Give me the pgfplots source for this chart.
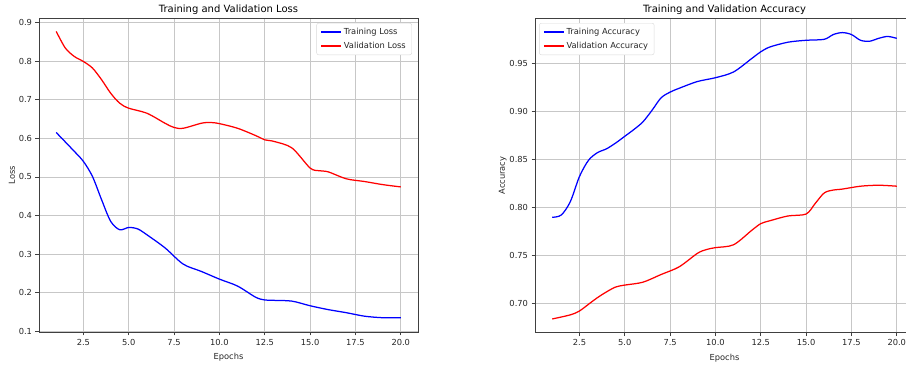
\documentclass[border=0pt]{standalone}
\usepackage{fontspec}
\setmainfont{DejaVu Sans}
\usepackage{pgfplots}
\pgfplotsset{compat=1.18}
\usepackage{pgfplotstable}

\pgfplotstableread{
e v
1 0.615
2 0.566
2.5 0.540
3 0.501
3.5 0.441
4 0.385
4.5 0.363
5 0.369
5.5 0.365
6 0.350
7 0.316
8 0.274
9 0.255
10 0.235
11 0.217
12 0.188
12.5 0.181
13 0.180
14 0.178
15 0.166
16 0.156
17 0.148
18 0.139
19 0.135
20 0.135
}\trainloss

\pgfplotstableread{
e v
1 0.877
1.5 0.834
2 0.812
2.5 0.799
3 0.782
3.5 0.752
4 0.717
4.5 0.691
5 0.678
6 0.665
7 0.639
7.5 0.628
8 0.626
9 0.639
9.5 0.641
10 0.638
11 0.626
12 0.607
12.5 0.596
13 0.592
14 0.575
15 0.523
15.5 0.516
16 0.513
17 0.495
18 0.488
19 0.480
20 0.474
}\valloss

\pgfplotstableread{
e v
1 0.7896
1.5 0.792
2 0.806
2.5 0.832
3 0.849
3.5 0.857
4 0.861
4.5 0.867
5 0.874
5.5 0.881
6 0.889
6.5 0.901
7 0.914
7.5 0.920
8 0.924
9 0.931
10 0.935
11 0.941
12 0.955
12.5 0.962
13 0.967
14 0.972
15 0.974
16 0.975
16.5 0.980
17 0.982
17.5 0.980
18 0.974
18.5 0.973
19 0.976
19.5 0.978
20 0.976
}\trainacc

\pgfplotstableread{
e v
1 0.6837
2 0.688
2.5 0.692
3 0.699
3.5 0.706
4 0.712
4.5 0.717
5 0.719
6 0.722
7 0.730
8 0.738
9 0.752
9.5 0.756
10 0.758
11 0.761
12 0.776
12.5 0.783
13 0.786
14 0.791
15 0.793
15.5 0.804
16 0.815
16.5 0.818
17 0.819
18 0.822
19 0.823
20 0.822
}\valacc

\pgfplotsset{
  mpl/.style={
    scale only axis,
    width=379pt,
    xmin=0.05, xmax=20.95,
    grid=major,
    grid style={color=black!22, line width=0.65pt},
    axis line style={black!75, line width=0.65pt},
    tick style={black!75, line width=0.65pt},
    tick align=outside,
    tick pos=left,
    major tick length=3.5pt,
    xtick={2.5,5,...,20},
    /pgf/number format/assume math mode=true,
    xticklabel style={/pgf/number format/.cd, fixed, fixed zerofill, precision=1},
    ticklabel style={font=\fontsize{8.3}{10}\selectfont, text=black!85},
    label style={font=\fontsize{8.3}{10}\selectfont, text=black!85},
    title style={font=\fontsize{10}{12}\selectfont, yshift=-6pt},
    xlabel style={yshift=-1pt},
    xlabel={Epochs},
    legend cell align=left,
    legend style={font=\fontsize{8.3}{10}\selectfont, draw=black!15, rounded corners=2pt,
      inner xsep=4pt, inner ysep=3pt, row sep=2pt, text=black!85},
    legend image code/.code={\draw[#1] (0pt,0pt) -- (20pt,0pt);},
  },
  tl/.style={blue, line width=1.25pt, smooth, tension=0.5},
  vl/.style={red, line width=1.25pt, smooth, tension=0.5},
}

\begin{document}
\begin{tikzpicture}[x=1pt,y=1pt]
\begin{axis}[mpl,
  at={(39pt,37pt)}, anchor=south west,
  height=313.7pt,
  ymin=0.098, ymax=0.911,
  ytick={0.1,0.2,...,0.9},
  yticklabel style={/pgf/number format/.cd, fixed, fixed zerofill, precision=1},
  title={Training and Validation Loss},
  ylabel={Loss},
  ylabel style={yshift=-3pt},
  legend style={at={(0.984,0.985)}, anchor=north east},
]
\addplot[tl] table[x=e,y=v] {\trainloss};
\addlegendentry{Training Loss}
\addplot[vl] table[x=e,y=v] {\valloss};
\addlegendentry{Validation Loss}
\end{axis}

\begin{axis}[mpl,
  at={(535pt,36.3pt)}, anchor=south west,
  height=314.4pt,
  ymin=0.6694, ymax=0.9969,
  ytick={0.70,0.75,...,0.95},
  yticklabel style={/pgf/number format/.cd, fixed, fixed zerofill, precision=2},
  title={Training and Validation Accuracy},
  ylabel={Accuracy},
  ylabel style={yshift=-4pt},
  legend style={at={(0.011,0.985)}, anchor=north west},
]
\addplot[tl] table[x=e,y=v] {\trainacc};
\addlegendentry{Training Accuracy}
\addplot[vl] table[x=e,y=v] {\valacc};
\addlegendentry{Validation Accuracy}
\end{axis}
\pgfresetboundingbox
\useasboundingbox (0,0) rectangle (906,369);
\end{tikzpicture}
\end{document}
